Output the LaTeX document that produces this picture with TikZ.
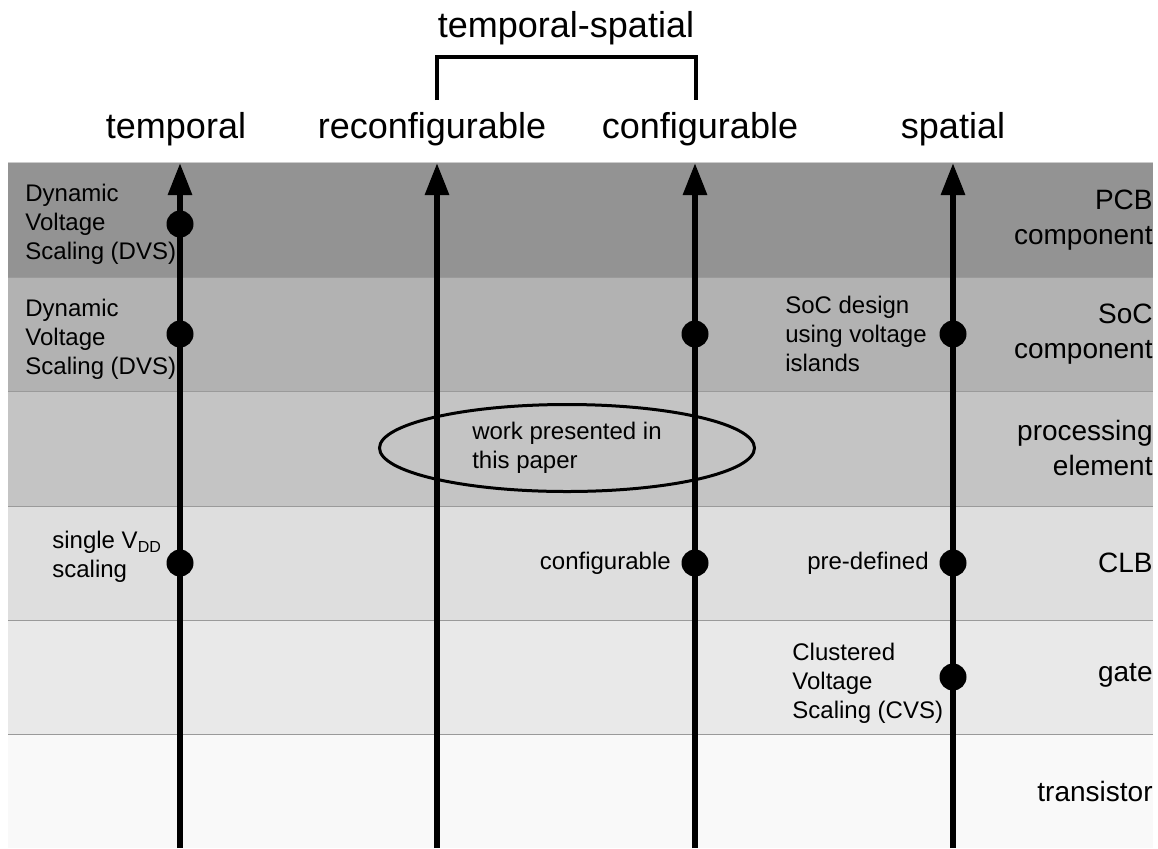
\documentclass[tikz,border=0pt]{standalone}
\usepackage{fontspec}
\setmainfont{Liberation Sans}
\usetikzlibrary{arrows.meta, shapes.geometric, positioning}
\definecolor{pcbgray}{HTML}{939393}
\definecolor{socgray}{HTML}{B2B2B2}
\definecolor{pegray}{HTML}{C4C4C4}
\definecolor{clbgray}{HTML}{DEDEDE}
\definecolor{gategray}{HTML}{E9E9E9}
\definecolor{trgray}{HTML}{F9F9F9}
\definecolor{bandline}{HTML}{9A9A9A}
\tikzset{
  band/.style={
    draw=bandline,
    line width=0.5pt
  },
  axis/.style={
    line width=3pt,
    -{Triangle[length=16pt,width=11.5pt]}
  },
  dot/.style={
    circle,
    fill=black,
    inner sep=0pt,
    minimum size=13.5pt
  },
  note/.style={
    align=left,
    inner sep=0pt,
    font=\fontsize{12}{14.5}\selectfont
  },
  level/.style={
    anchor=east,
    align=right,
    inner sep=0pt,
    font=\fontsize{14}{17.5}\selectfont
  },
  head/.style={
    anchor=base,
    inner sep=0pt,
    font=\fontsize{18}{22}\selectfont
  },
  bracket/.style={line width=2pt},
  paper/.style={
    ellipse,
    draw=black,
    line width=1.5pt,
    minimum width=187.5pt,
    minimum height=43.5pt,
    align=left,
    inner sep=0pt,
    font=\fontsize{12}{14.5}\selectfont
  }
}
\begin{document}
\begin{tikzpicture}[x=0.5pt, y=-0.5pt]
  \useasboundingbox (0,0) rectangle (1158,848);
  % abstraction levels
  \fill[pcbgray] (8,162) rectangle (1153,277);
  \fill[socgray] (8,277) rectangle (1153,391);
  \fill[pegray] (8,391) rectangle (1153,506);
  \fill[clbgray] (8,506) rectangle (1153,620);
  \fill[gategray] (8,620) rectangle (1153,734);
  \fill[trgray] (8,734) rectangle (1153,848);
  \draw[band, draw=bandline!50] (8,162) -- (1153,162);
  \draw[band] (8,277) -- (1153,277);
  \draw[band] (8,391) -- (1153,391);
  \draw[band] (8,506) -- (1153,506);
  \draw[band] (8,620) -- (1153,620);
  \draw[band] (8,734) -- (1153,734);
  \node (pcb) [level] at (1153,220) {PCB\\component};
  \node (soc) [level] at (1153,334) {SoC\\component};
  \node (pe) [level] at (1153,448) {processing\\element};
  \node (clb) [level] at (1153,563) {CLB};
  \node (gate) [level] at (1153,675) {gate};
  \node (trans) [level] at (1153,791) {transistor};
  % headings
  \node (temp) [head] at (176,138) {temporal};
  \node (recfg) [head] at (432,138) {reconfigurable};
  \node (cfg) [head] at (700,138) {configurable};
  \node (spat) [head] at (953,138) {spatial};
  \node (tsp) [head] at (566,37) {temporal-spatial};
  \coordinate (br-l) at (437,100);
  \coordinate (br-m) at (566,57);
  \coordinate (br-r) at (696,100);
  \draw[bracket] (br-l) |- (br-m) -| (br-r);
  % this work
  \node (work) [paper] at (567,448) {work presented in\\this paper};
  % axes
  \coordinate (temp-b) at (180,848);
  \coordinate (temp-t) at (180,163);
  \coordinate (recfg-b) at (437,848);
  \coordinate (recfg-t) at (437,163);
  \coordinate (cfg-b) at (695,848);
  \coordinate (cfg-t) at (695,163);
  \coordinate (spat-b) at (953,848);
  \coordinate (spat-t) at (953,163);
  \draw[axis] (temp-b) -- (temp-t);
  \draw[axis] (recfg-b) -- (recfg-t);
  \draw[axis] (cfg-b) -- (cfg-t);
  \draw[axis] (spat-b) -- (spat-t);
  % approaches
  \node (temp-pcb) [dot] at (180,224) {};
  \node (temp-soc) [dot] at (180,334) {};
  \node (temp-clb) [dot] at (180,563) {};
  \node (cfg-soc) [dot] at (695,334) {};
  \node (cfg-clb) [dot] at (695,563) {};
  \node (spat-soc) [dot] at (953,334) {};
  \node (spat-clb) [dot] at (953,563) {};
  \node (spat-gate) [dot] at (953,677) {};
  \node (dvs-pcb) [note, anchor=west] at (25,224) {Dynamic\\Voltage\\Scaling (DVS)};
  \node (dvs-soc) [note, anchor=west] at (25,339) {Dynamic\\Voltage\\Scaling (DVS)};
  \node (vdd) [note, anchor=west] at (52,557) {single V\textsubscript{DD}\\scaling};
  \node (cfg-note) [note, left=5pt of cfg-clb] {configurable};
  \node (predef) [note, left=5pt of spat-clb] {pre-defined};
  \node (islands) [note, left=6pt of spat-soc] {SoC design\\using voltage\\islands};
  \node (cvs) [note, anchor=west] at (792,683) {Clustered\\Voltage\\Scaling (CVS)};
\end{tikzpicture}
\end{document}
